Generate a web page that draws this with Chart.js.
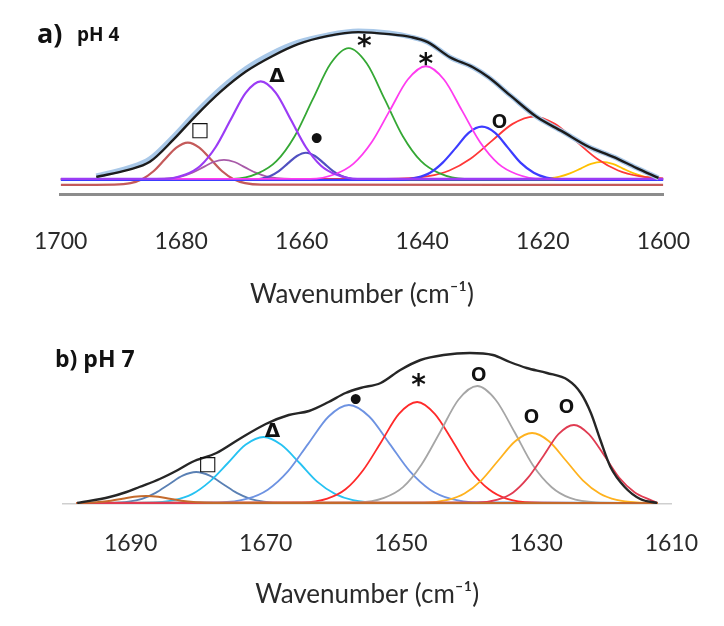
<!DOCTYPE html>
<html>
<head>
<meta charset="utf-8">
<script src="https://cdn.jsdelivr.net/npm/chart.js@4.4.0/dist/chart.umd.min.js"></script>
<style>
  html, body { margin: 0; padding: 0; background: #fff; }
  .panel { position: absolute; left: 0; }
</style>
</head>
<body>
<div class="panel" style="top:0"><canvas id="chartA" width="724" height="320"></canvas></div>
<div class="panel" style="top:320px"><canvas id="chartB" width="724" height="306"></canvas></div>
<script>
// ---- panel a) pH 4 ----
const aTicks = [1700, 1680, 1660, 1640, 1620, 1600];

const aEnvX = [1694.1, 1688.8, 1685.2, 1681.3, 1677.7, 1673.4, 1669.2, 1664.9, 1660.6, 1655.8, 1650.6, 1645.5, 1641.8, 1639.1, 1635.4, 1631.6, 1629.0, 1625.2, 1621.1, 1616.7, 1612.4, 1608.3, 1604.5, 1600.8];
const aEnvY = [2, 9, 17, 39, 62, 87, 107, 122, 134, 142, 146, 144, 141, 136, 121, 111, 101, 82, 62, 47, 32, 22, 11, 1];
const aMeasY = [3, 11, 20, 42, 65, 90, 110, 125, 136, 143, 147, 145, 141, 136, 121, 111, 101, 82, 62, 47, 32, 22, 11, 1];

const aSqX = [1700, 1691.1, 1688.4, 1686.5, 1684.6, 1682.7, 1680.8, 1678.9, 1677.0, 1675.1, 1673.2, 1671.3, 1669.4, 1666.7, 1600];
const aSqY = [-6, -5.7, -4.2, -0.3, 7.6, 19.5, 31.1, 36, 31.1, 19.5, 7.6, -0.3, -4.2, -5.7, -6];

const aMvX = [1700, 1684.1, 1681.6, 1679.9, 1678.15, 1676.4, 1674.65, 1672.9, 1671.15, 1669.4, 1667.65, 1665.9, 1664.15, 1661.7, 1600];
const aMvY = [0, 0, 0.8, 2.6, 6.2, 11.5, 16.8, 19, 16.8, 11.5, 6.2, 2.6, 0.8, 0, 0];

const aDeX = [1700, 1682.8, 1679.3, 1676.8, 1674.3, 1671.8, 1669.3, 1666.8, 1664.3, 1661.8, 1659.3, 1656.8, 1654.3, 1650.8, 1600];
const aDeY = [0, 0, 4.3, 13.1, 31.5, 58.8, 85.6, 97, 85.6, 58.8, 31.5, 13.1, 4.3, 0, 0];

const aDotX = [1700, 1668.9, 1666.8, 1665.3, 1663.8, 1662.3, 1660.8, 1659.3, 1657.8, 1656.3, 1654.8, 1653.3, 1651.8, 1649.7, 1600];
const aDotY = [-1, -1, 0.2, 2.7, 7.8, 15.4, 22.8, 26, 22.8, 15.4, 7.8, 2.7, 0.2, -1, -1];

const aGrX = [1700, 1671.4, 1667.2, 1664.2, 1661.2, 1658.2, 1655.2, 1652.2, 1649.2, 1646.2, 1643.2, 1640.2, 1637.2, 1633, 1600];
const aGrY = [0, 0, 5.7, 17.6, 42.2, 78.8, 114.7, 130, 114.7, 78.8, 42.2, 17.6, 5.7, 0, 0];

const aMgX = [1700, 1658.6, 1654.4, 1651.4, 1648.4, 1645.4, 1642.4, 1639.4, 1636.4, 1633.4, 1630.4, 1627.4, 1624.4, 1620.2, 1600];
const aMgY = [0, 0, 4.9, 15.2, 36.4, 67.9, 98.8, 112, 98.8, 67.9, 36.4, 15.2, 4.9, 0, 0];

const aOX = [1700, 1643.9, 1640.9, 1638.7, 1636.6, 1634.4, 1632.3, 1630.1, 1627.9, 1625.8, 1623.7, 1621.5, 1619.4, 1616.3, 1600];
const aOY = [-1, -1, 1.3, 6.2, 16.2, 31.1, 45.8, 52, 45.8, 31.1, 16.2, 6.2, 1.3, -1, -1];

const aRdX = [1700, 1646, 1639, 1635.5, 1632, 1628.5, 1625, 1621.5, 1618, 1614.5, 1611, 1607.5, 1604, 1600];
const aRdY = [0, 0, 2.7, 8.4, 20.1, 37.6, 54.7, 62, 54.7, 37.6, 20.1, 8.4, 2.7, 0.5];

const aYeX = [1700, 1621.5, 1618.9, 1617.2, 1615.5, 1613.7, 1612, 1610.2, 1608.4, 1606.7, 1604.9, 1603.2, 1601.5, 1600];
const aYeY = [0, 0, 0.7, 2.3, 5.5, 10.3, 15, 17, 15, 10.3, 5.5, 2.3, 0.7, 0];

const aMarkText = ['□', 'Δ', '•', '*', '*', 'O'];
const aMarkX = [1676.9, 1664.1, 1657.5, 1649.6, 1639.4, 1627.2];
const aMarkY = [48, 102, 37, 136, 118, 56];

// ---- panel b) pH 7 ----
const bTicks = [1690, 1670, 1650, 1630, 1610];

const bEnvX = [1697.9, 1693.1, 1690.6, 1688.7, 1685.7, 1683.0, 1680.9, 1677.3, 1673.9, 1670.0, 1666.6, 1663.6, 1660.7, 1658.2, 1656.0, 1653.0, 1650.1, 1647.1, 1643.7, 1639.8, 1636.4, 1633.9, 1631.4, 1628.4, 1625.3, 1623.4, 1621.9, 1620.5, 1619.0, 1616.9, 1614.6, 1612.1];
const bEnvY = [0, 6, 11, 16, 24, 33, 41, 50, 64, 79, 88, 92, 101, 110, 115, 120, 133, 143, 148, 150, 148, 141, 135, 130, 123, 110, 90, 63, 36, 16, 4, 0];

const bOrX = [1698, 1696.5, 1694.7, 1692.9, 1691.2, 1689.5, 1687.7, 1685.9, 1684.2, 1682.5, 1680.7, 1678.9, 1676.5, 1612];
const bOrY = [0, 0.2, 0.9, 2.3, 4.2, 6.2, 7, 6.2, 4.2, 2.3, 0.9, 0.3, 0, 0];

const bSqX = [1698, 1693.1, 1690.3, 1688.3, 1686.3, 1684.3, 1682.3, 1680.3, 1678.3, 1676.3, 1674.3, 1672.3, 1670.3, 1667.5, 1612];
const bSqY = [0, 0.2, 1.4, 4.2, 10.1, 18.8, 27.4, 31, 27.4, 18.8, 10.1, 4.2, 1.4, 0.2, 0];

const bCyX = [1698, 1687.3, 1683.6, 1680.9, 1678.3, 1675.6, 1673, 1670.3, 1667.7, 1665, 1662.4, 1659.7, 1657.1, 1653.3, 1612];
const bCyY = [0, 0.4, 2.9, 8.9, 21.4, 40, 58.2, 66, 58.2, 40, 21.4, 8.9, 2.9, 0.4, 0];

const bBlX = [1698, 1676.9, 1672.7, 1669.7, 1666.7, 1663.7, 1660.7, 1657.7, 1654.7, 1651.7, 1648.7, 1645.7, 1642.7, 1638.5, 1612];
const bBlY = [0, 0.6, 4.3, 13.3, 31.8, 59.4, 86.5, 98, 86.5, 59.4, 31.8, 13.3, 4.3, 0.6, 0];

const bRdX = [1698, 1664.6, 1660.9, 1658.2, 1655.6, 1652.9, 1650.3, 1647.6, 1645, 1642.3, 1639.7, 1637, 1634.4, 1630.6, 1612];
const bRdY = [0, 0.6, 4.4, 13.7, 32.8, 61.3, 89.1, 101, 89.1, 61.3, 32.8, 13.7, 4.4, 0.6, 0];

const bGyX = [1698, 1656.3, 1652.5, 1649.7, 1647, 1644.2, 1641.5, 1638.7, 1636, 1633.2, 1630.5, 1627.7, 1625, 1621.1, 1612];
const bGyY = [0, 0.7, 5.1, 15.8, 38, 71, 103.3, 117, 103.3, 71, 38, 15.8, 5.1, 0.7, 0];

const bYeX = [1698, 1646.6, 1643.1, 1640.6, 1638.1, 1635.6, 1633.1, 1630.6, 1628.1, 1625.6, 1623.1, 1620.6, 1618.1, 1614.6, 1612];
const bYeY = [0, 0.4, 3.1, 9.5, 22.7, 42.5, 61.8, 70, 61.8, 42.5, 22.7, 9.5, 3.1, 0.4, 0];

const bCrX = [1698, 1638.8, 1635.7, 1633.4, 1631.2, 1628.9, 1626.7, 1624.4, 1622.2, 1619.9, 1617.7, 1615.4, 1613.2, 1612];
const bCrY = [0, 0.5, 3.4, 10.6, 25.3, 47.3, 68.8, 78, 68.8, 47.3, 25.3, 10.6, 3.4, 0];

const bMarkText = ['□', 'Δ', '•', '*', 'O', 'O', 'O'];
const bMarkX = [1678.6, 1669.0, 1656.7, 1647.4, 1638.5, 1630.7, 1625.5];
const bMarkY = [38, 71, 100, 123, 128, 86, 96];

// ---- helpers ----
function pts(xs, ys) {
  return xs.map((x, i) => ({ x: x, y: ys[i] }));
}

function line(xs, ys, color, width) {
  return {
    data: pts(xs, ys),
    borderColor: color,
    borderWidth: width || 1.8,
    pointRadius: 0,
    fill: false,
    cubicInterpolationMode: 'monotone'
  };
}

// glyph styles for the band markers
const markStyle = {
  '□': { font: 'bold 20px "DejaVu Sans"', dy: 0 },
  'Δ': { font: 'bold 20px "DejaVu Sans"', dy: 0 },
  '•': { font: 'bold 28px "DejaVu Sans"', dy: 0 },
  '*': { font: 'bold 28px "DejaVu Sans"', dy: 7 },
  'O': { font: 'bold 20px "Open Sans"', dy: 0 }
};

function marksPlugin(texts, xs, ys, scale, title) {
  return {
    id: 'marks',
    afterDatasetsDraw(chart) {
      const ctx = chart.ctx;
      const sx = chart.scales.x, sy = chart.scales.y;
      ctx.save();
      ctx.fillStyle = '#111';
      ctx.textAlign = 'center';
      ctx.textBaseline = 'middle';
      texts.forEach((t, i) => {
        const st = markStyle[t];
        ctx.font = st.font;
        ctx.fillText(t, sx.getPixelForValue(xs[i]), sy.getPixelForValue(ys[i]) + st.dy * scale);
      });
      // panel title
      ctx.textAlign = 'left';
      ctx.textBaseline = 'alphabetic';
      title.forEach(p => {
        ctx.font = p.font;
        ctx.fillText(p.text, p.x, p.y);
      });
      ctx.restore();
    }
  };
}

function xScale(min, max, ticks, height, padTicks, padTitle, borderColor, borderWidth) {
  return {
    type: 'linear',
    min: min,
    max: max,
    reverse: true,
    afterBuildTicks: s => { s.ticks = ticks.map(v => ({ value: v })); },
    afterFit: s => { s.height = height; },
    grid: { display: false, drawTicks: false },
    border: { display: true, color: borderColor, width: borderWidth },
    ticks: {
      padding: padTicks,
      autoSkip: false,
      maxRotation: 0,
      color: '#2a2a2a',
      font: { family: 'Lato', size: 23 },
      callback: v => String(v)
    },
    title: {
      display: true,
      text: 'Wavenumber (cm⁻¹)',
      color: '#2a2a2a',
      font: { family: 'Lato', size: 26 },
      padding: { top: 0, bottom: padTitle }
    }
  };
}

const common = {
  responsive: false,
  animation: false,
  plugins: { legend: { display: false }, tooltip: { enabled: false } }
};

new Chart(document.getElementById('chartA'), {
  type: 'line',
  data: {
    datasets: [
      line(aEnvX, aEnvY, '#1c1c1c', 2.4),
      line(aEnvX, aMeasY, '#a9c8e8', 5),
      line(aDeX, aDeY, '#9b3cf5', 2.2),
      line(aMgX, aMgY, '#ff3cf0'),
      line(aOX, aOY, '#3c3cff', 2.2),
      line(aDotX, aDotY, '#5050c0', 2.2),
      line(aGrX, aGrY, '#35a835'),
      line(aRdX, aRdY, '#ff3838'),
      line(aYeX, aYeY, '#ffc000'),
      line(aMvX, aMvY, '#a85aa8'),
      line(aSqX, aSqY, '#c45a5a', 2.2)
    ]
  },
  options: Object.assign({}, common, {
    layout: { padding: { left: 40, right: 57, top: 18, bottom: 0 } },
    scales: {
      x: xScale(1600, 1700, aTicks, 126, 34, 10, '#8c8c8c', 3),
      y: { display: false, min: -15, max: 160 }
    }
  }),
  plugins: [marksPlugin(aMarkText, aMarkX, aMarkY, 0.85, [
    { text: 'a)', font: 'bold 27px "Open Sans"', x: 37, y: 43 },
    { text: 'pH 4', font: 'bold 19px "Open Sans"', x: 77, y: 41 }
  ])]
});

new Chart(document.getElementById('chartB'), {
  type: 'line',
  data: {
    datasets: [
      line(bEnvX, bEnvY, '#262626', 2.4),
      line(bOrX, bOrY, '#c46a2c', 2),
      line(bCrX, bCrY, '#e03c52'),
      line(bYeX, bYeY, '#ffb21e'),
      line(bGyX, bGyY, '#a6a6a6'),
      line(bRdX, bRdY, '#ff2a2a'),
      line(bBlX, bBlY, '#6e93e2'),
      line(bCyX, bCyY, '#26c2f2'),
      line(bSqX, bSqY, '#5a80b4')
    ]
  },
  options: Object.assign({}, common, {
    layout: { padding: { left: 63, right: 50, top: 13, bottom: 0 } },
    scales: {
      x: xScale(1610, 1700, bTicks, 122, 26, 16, '#cfcfcf', 1.5),
      y: { display: false, min: -1, max: 170 }
    }
  }),
  plugins: [marksPlugin(bMarkText, bMarkX, bMarkY, 1, [
    { text: 'b) pH 7', font: 'bold 23px "Open Sans"', x: 55, y: 47 }
  ])]
});
</script>
</body>
</html>
